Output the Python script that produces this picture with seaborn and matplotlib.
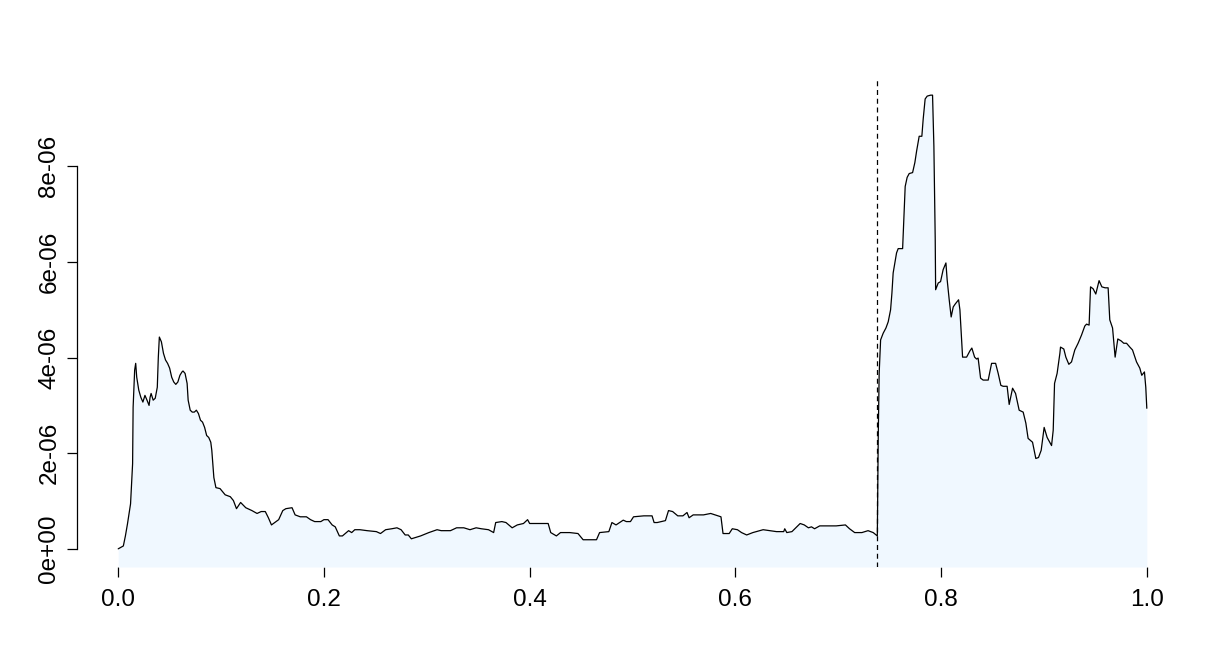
import numpy as np
import pandas as pd
import matplotlib
matplotlib.use("Agg")
import matplotlib.pyplot as plt
import seaborn as sns

# positions along the sequence (0..1) and the density (units of 1e-6)
pos = [0.000, 0.005, 0.007, 0.009, 0.011, 0.012, 0.014, 0.0145, 0.016, 0.017,
       0.018, 0.020, 0.022, 0.024, 0.026, 0.028, 0.030, 0.031, 0.032, 0.034,
       0.036, 0.038, 0.039, 0.040, 0.042, 0.044, 0.046, 0.048, 0.050, 0.052,
       0.054, 0.056, 0.058, 0.060, 0.062, 0.063, 0.065, 0.067, 0.068, 0.070,
       0.072, 0.074, 0.076, 0.078, 0.080, 0.082, 0.084, 0.086, 0.088, 0.090,
       0.091, 0.093, 0.095, 0.099, 0.104, 0.109, 0.112, 0.115, 0.119, 0.124,
       0.130, 0.135, 0.139, 0.143, 0.146, 0.149, 0.156, 0.160, 0.163, 0.169,
       0.172, 0.177, 0.183, 0.187, 0.191, 0.197, 0.200, 0.204, 0.208, 0.211,
       0.215, 0.218, 0.224, 0.227, 0.230, 0.235, 0.242, 0.251, 0.255, 0.260,
       0.266, 0.271, 0.275, 0.279, 0.282, 0.285, 0.294, 0.302, 0.310, 0.314,
       0.323, 0.329, 0.336, 0.342, 0.348, 0.353, 0.360, 0.365, 0.367, 0.373,
       0.377, 0.383, 0.388, 0.394, 0.398, 0.400, 0.407, 0.418, 0.4205, 0.426,
       0.430, 0.439, 0.447, 0.452, 0.465, 0.468, 0.477, 0.480, 0.484, 0.491,
       0.494, 0.498, 0.501, 0.511, 0.519, 0.521, 0.524, 0.532, 0.535, 0.539,
       0.544, 0.549, 0.553, 0.555, 0.559, 0.569, 0.576, 0.583, 0.586, 0.588,
       0.594, 0.597, 0.602, 0.606, 0.611, 0.617, 0.627, 0.640, 0.647, 0.648,
       0.650, 0.655, 0.663, 0.667, 0.671, 0.674, 0.677, 0.682, 0.698, 0.707,
       0.711, 0.716, 0.723, 0.729, 0.734, 0.738, 0.7383, 0.7389, 0.7398, 0.7412,
       0.7437, 0.7464, 0.7486, 0.7509, 0.7522, 0.7534, 0.7551, 0.7567, 0.7583, 0.7626,
       0.7638, 0.7651, 0.767, 0.769, 0.7723, 0.7745, 0.7762, 0.7787, 0.7813, 0.7826,
       0.7845, 0.7865, 0.7898, 0.7917, 0.793, 0.7943, 0.7947, 0.7972, 0.7995, 0.802,
       0.8047, 0.8059, 0.8079, 0.8098, 0.8118, 0.8137, 0.817, 0.8183, 0.8209, 0.8248,
       0.828, 0.8299, 0.8326, 0.8345, 0.836, 0.8384, 0.8409, 0.8458, 0.8491, 0.853,
       0.8555, 0.8581, 0.8603, 0.8642, 0.8662, 0.8695, 0.8724, 0.8759, 0.8798, 0.8824,
       0.8846, 0.8889, 0.8921, 0.8947, 0.8973, 0.9002, 0.9031, 0.9074, 0.909, 0.9103,
       0.9128, 0.9155, 0.9161, 0.9193, 0.9213, 0.9242, 0.9268, 0.930, 0.9332, 0.9365,
       0.9397, 0.9414, 0.9439, 0.9453, 0.9478, 0.9504, 0.9536, 0.9563, 0.9595, 0.9624,
       0.964, 0.9667, 0.9692, 0.9718, 0.975, 0.9776, 0.9803, 0.9835, 0.9861, 0.990,
       0.9932, 0.9951, 0.9977, 0.999, 1.000]
dens_e6 = [0.00, 0.06, 0.27, 0.52, 0.80, 0.94, 1.78, 2.96, 3.74, 3.88,
           3.59, 3.32, 3.17, 3.07, 3.21, 3.11, 3.00, 3.17, 3.25, 3.11,
           3.15, 3.38, 4.01, 4.43, 4.33, 4.09, 3.95, 3.88, 3.78, 3.59,
           3.49, 3.44, 3.49, 3.63, 3.70, 3.72, 3.67, 3.46, 3.11, 2.90,
           2.86, 2.86, 2.90, 2.83, 2.69, 2.65, 2.54, 2.37, 2.33, 2.23,
           2.06, 1.49, 1.28, 1.26, 1.13, 1.09, 1.01, 0.84, 0.97, 0.86,
           0.80, 0.74, 0.78, 0.78, 0.65, 0.50, 0.61, 0.80, 0.84, 0.86,
           0.71, 0.67, 0.67, 0.61, 0.57, 0.57, 0.61, 0.61, 0.50, 0.46,
           0.27, 0.27, 0.38, 0.34, 0.40, 0.40, 0.38, 0.36, 0.32, 0.40,
           0.42, 0.44, 0.40, 0.29, 0.29, 0.21, 0.27, 0.34, 0.40, 0.38,
           0.38, 0.44, 0.44, 0.40, 0.44, 0.42, 0.40, 0.34, 0.55, 0.57,
           0.55, 0.44, 0.50, 0.53, 0.61, 0.53, 0.53, 0.53, 0.34, 0.27,
           0.34, 0.34, 0.32, 0.19, 0.19, 0.34, 0.36, 0.55, 0.50, 0.60,
           0.57, 0.57, 0.67, 0.69, 0.69, 0.55, 0.55, 0.59, 0.80, 0.78,
           0.69, 0.69, 0.76, 0.65, 0.71, 0.71, 0.74, 0.69, 0.67, 0.32,
           0.32, 0.42, 0.40, 0.34, 0.29, 0.34, 0.40, 0.36, 0.36, 0.42,
           0.34, 0.36, 0.53, 0.50, 0.44, 0.46, 0.42, 0.48, 0.48, 0.50,
           0.42, 0.34, 0.34, 0.38, 0.34, 0.27, 1.01, 2.33, 3.67, 4.37,
           4.51, 4.62, 4.75, 5.00, 5.35, 5.77, 5.98, 6.19, 6.28, 6.28,
           6.89, 7.58, 7.77, 7.85, 7.87, 8.08, 8.32, 8.63, 8.63, 8.99,
           9.41, 9.47, 9.49, 9.49, 8.42, 6.47, 5.42, 5.56, 5.59, 5.84,
           5.98, 5.63, 5.21, 4.85, 5.06, 5.12, 5.21, 5.00, 4.01, 4.01,
           4.14, 4.20, 4.01, 3.97, 3.99, 3.57, 3.53, 3.53, 3.88, 3.88,
           3.67, 3.42, 3.40, 3.40, 3.02, 3.36, 3.25, 2.90, 2.86, 2.63,
           2.31, 2.23, 1.89, 1.91, 2.06, 2.54, 2.33, 2.16, 2.48, 3.46,
           3.67, 4.09, 4.22, 4.18, 4.01, 3.86, 3.91, 4.16, 4.30, 4.47,
           4.66, 4.70, 4.68, 5.48, 5.44, 5.33, 5.61, 5.48, 5.46, 5.46,
           4.79, 4.62, 4.01, 4.39, 4.35, 4.30, 4.30, 4.22, 4.16, 3.91,
           3.78, 3.63, 3.70, 3.38, 2.94]
cutoff = 0.738
y_ticks = [0, 2e-06, 4e-06, 6e-06, 8e-06]
y_labels = ["0e+00", "2e-06", "4e-06", "6e-06", "8e-06"]
x_ticks = [0.0, 0.2, 0.4, 0.6, 0.8, 1.0]
x_labels = ["0.0", "0.2", "0.4", "0.6", "0.8", "1.0"]

df = pd.DataFrame({"pos": pos, "dens": np.array(dens_e6) * 1e-6})

sns.set_style("white")
plt.rcParams["font.family"] = ["Liberation Sans", "DejaVu Sans"]

fig = plt.figure(figsize=(12.29, 6.65), dpi=100)
ax = fig.add_axes([0.0627, 0.1474, 0.9039, 0.7368])

# R-style 4% padding around the data range
ymax = df["dens"].max()
ylo, yhi = -0.04 * ymax, 1.04 * ymax
ax.set_xlim(-0.04, 1.04)
ax.set_ylim(ylo, yhi)

ax.fill_between(df["pos"], df["dens"], ylo, color="#F0F8FF", lw=0, zorder=1)
sns.lineplot(data=df, x="pos", y="dens", ax=ax, color="black", lw=0.9,
             sort=False, estimator=None, zorder=3)
ax.axvline(cutoff, color="black", lw=0.9, ls=(0, (4, 3)), zorder=4)

ax.set_xlabel("")
ax.set_ylabel("")
ax.set_xticks(x_ticks)
ax.set_xticklabels(x_labels)
ax.set_yticks(y_ticks)
ax.set_yticklabels(y_labels, rotation=90, va="center")
ax.tick_params(axis="both", labelsize=17.5, length=7, width=0.9, color="black",
               labelcolor="black", direction="out", bottom=True, left=True)
ax.tick_params(axis="x", pad=9)
ax.tick_params(axis="y", pad=5)

for s in ["top", "right", "bottom"]:
    ax.spines[s].set_visible(False)
ax.spines["left"].set_bounds(0, 8e-06)
ax.spines["left"].set_linewidth(0.9)
ax.spines["left"].set_color("black")

fig.savefig("out.png", dpi=100)
